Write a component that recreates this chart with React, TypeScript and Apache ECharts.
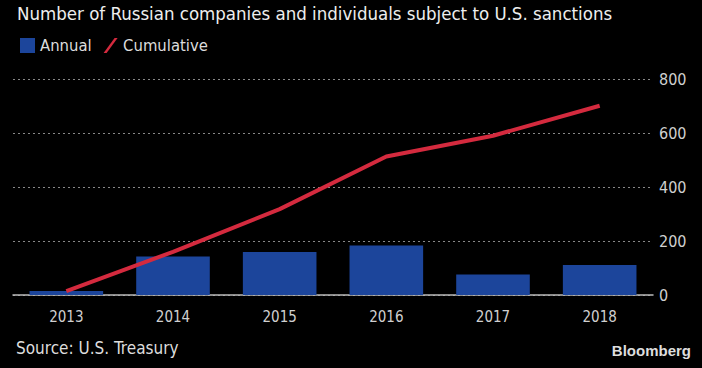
import React, { useEffect, useRef } from "react";
import * as echarts from "echarts";

const years = ["2013", "2014", "2015", "2016", "2017", "2018"];
const annual = [15, 143, 159, 183, 76, 111];
const cumulative = [14, 160, 318, 513, 590, 701];
const yTicks = { min: 0, max: 800, interval: 200 };

const FONT = "'Liberation Sans Narrow', 'DejaVu Sans Condensed', 'Liberation Sans', sans-serif";

export default function App() {
  const ref = useRef<HTMLDivElement>(null);
  useEffect(() => {
    if (!ref.current) return;
    const chart = echarts.init(ref.current, undefined, { renderer: "svg" });
    chart.setOption({
      animation: false,
      backgroundColor: "#000000",
      textStyle: { fontFamily: FONT },
      title: {
        text: "Number of Russian companies and individuals subject to U.S. sanctions",
        left: 17,
        top: 4,
        padding: 0,
        textStyle: { color: "#eeeeee", fontSize: 18.5, fontWeight: "normal", fontFamily: FONT },
      },
      legend: {
        left: 20,
        top: 37,
        padding: 0,
        itemWidth: 15,
        itemHeight: 15,
        itemGap: 12,
        textStyle: { color: "#dddddd", fontSize: 16.5, fontFamily: FONT },
        data: [
          { name: "Annual", icon: "rect" },
          { name: "Cumulative", icon: "path://M0,15 L3,15 L14,0 L11,0 Z" },
        ],
      },
      grid: { left: 13, right: 49, top: 79, bottom: 73 },
      xAxis: {
        type: "category",
        data: years,
        axisLine: { lineStyle: { color: "#bbbbbb", width: 1.5 } },
        axisTick: { alignWithLabel: true, length: 6, lineStyle: { color: "#aaaaaa" } },
        axisLabel: { color: "#d0d0d0", fontSize: 15, margin: 14, fontFamily: FONT },
      },
      yAxis: {
        type: "value",
        position: "right",
        min: yTicks.min,
        max: yTicks.max,
        interval: yTicks.interval,
        axisLine: { show: false },
        axisTick: { show: false },
        axisLabel: { color: "#d0d0d0", fontSize: 16, margin: 6, fontFamily: FONT },
        splitLine: { lineStyle: { color: "#888888", type: [2, 3], width: 1 } },
      },
      series: [
        {
          name: "Annual",
          type: "bar",
          data: annual,
          barWidth: "69%",
          itemStyle: { color: "#1c459b" },
        },
        {
          name: "Cumulative",
          type: "line",
          data: cumulative,
          symbol: "none",
          lineStyle: { color: "#d42a3e", width: 4 },
          itemStyle: { color: "#d42a3e" },
        },
      ],
      graphic: [
        {
          type: "text",
          left: 16,
          top: 339,
          style: { text: "Source: U.S. Treasury", fill: "#dddddd", font: `17px ${FONT}` },
        },
        {
          type: "text",
          right: 11,
          top: 343,
          style: { text: "Bloomberg", fill: "#dddddd", font: `bold 15px 'Liberation Sans', Arial, sans-serif` },
        },
      ],
    });
    return () => chart.dispose();
  }, []);
  return <div ref={ref} style={{ width: 702, height: 368, position: "absolute", left: 0, top: 0 }} />;
}
